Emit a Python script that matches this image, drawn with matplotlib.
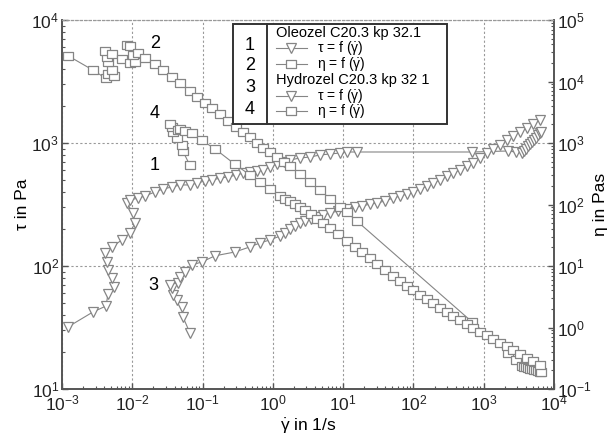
import matplotlib
matplotlib.use('Agg')
import matplotlib.pyplot as plt
from matplotlib.lines import Line2D
from matplotlib.patches import Rectangle
from matplotlib.ticker import LogLocator, NullFormatter

plt.rcParams['font.family'] = ['Liberation Sans', 'DejaVu Sans']
plt.rcParams['mathtext.fontset'] = 'custom'
plt.rcParams['mathtext.rm'] = 'Liberation Sans'
plt.rcParams['mathtext.it'] = 'Liberation Sans'
plt.rcParams['mathtext.bf'] = 'Liberation Sans:bold'

# ---------------- data ----------------
# Oleozel C20.3 kp 32.1 : shear stress (curve 1) and viscosity (curve 2)
gamma_oleo = [1.22e-3, 2.76e-3, 4.23e-3, 4.51e-3, 5.49e-3, 5.14e-3, 4.51e-3, 4.37e-3,
              4.09e-3, 5.14e-3, 7.13e-3, 9.27e-3, 1.09e-2, 1.02e-2, 8.41e-3, 9.27e-3,
              1.21e-2, 1.52e-2, 2.10e-2, 2.73e-2, 3.67e-2, 4.77e-2, 6.62e-2, 8.32e-2,
              0.108, 0.136, 0.177, 0.230, 0.299, 0.376, 0.472, 0.594, 0.723, 0.910,
              1.14, 1.44, 1.75, 2.43, 3.37, 4.68, 6.49, 9.0, 11.3, 15.7, 679, 2210,
              2870, 3490, 3730, 3980, 4250, 4540, 4850, 5180, 5530, 5900, 6300, 6510]
tau_oleo = [32, 42.3, 47.3, 59.2, 67.5, 79.8, 92.7, 108, 128, 143, 163, 185, 224, 270,
            325, 344, 357, 371, 400, 423, 439, 456, 456, 473, 491, 500, 519, 529, 549,
            570, 581, 592, 603, 638, 675, 701, 728, 755, 769, 799, 814, 829, 845, 845,
            845, 861, 845, 829, 865, 900, 938, 978, 1019, 1062, 1107, 1153, 1202, 1228]
eta_oleo = [26200, 15300, 11200, 13100, 12300, 15500, 20600, 24700, 31200, 27800,
            22800, 20000, 20500, 26500, 38600, 37100, 29500, 24400, 19000, 15500,
            12000, 9560, 6890, 5690, 4550, 3680, 2930, 2300, 1840, 1520, 1230, 997,
            834, 701, 592, 487, 416, 311, 228, 171, 125, 92, 74.8, 53.8, 1.24, 0.390,
            0.294, 0.238, 0.232, 0.226, 0.221, 0.215, 0.210, 0.205, 0.200, 0.195,
            0.191, 0.189]

# Hydrozel C20.3 kp 32 1 : shear stress (curve 3) and viscosity (curve 4)
gamma_hydro = [6.62e-2, 5.26e-2, 5.09e-2, 4.32e-2, 3.79e-2, 3.67e-2, 3.44e-2, 4.47e-2,
               4.77e-2, 5.62e-2, 7.07e-2, 9.8e-2, 0.150, 0.289, 0.472, 0.655, 0.910,
               1.26, 1.49, 1.75, 2.06, 2.43, 2.86, 3.48, 4.24, 5.16, 6.49, 8.43, 11.3,
               14.7, 18.5, 24.0, 30.3, 39.3, 51.1, 64.3, 80.8, 98.4, 124, 156, 189, 238,
               300, 365, 459, 577, 702, 883, 1110, 1350, 1700, 2140, 2600, 3270, 4120,
               5010, 6300]
tau_hydro = [28.5, 38.5, 46.4, 53.0, 58.1, 66.2, 70.1, 72.8, 81.4, 89.4, 102, 108, 121,
             130, 143, 154, 163, 175, 185, 200, 212, 224, 232, 241, 250, 260, 270, 280,
             290, 302, 307, 319, 325, 338, 357, 371, 385, 400, 423, 447, 473, 500, 539,
             570, 603, 650, 687, 755, 829, 893, 963, 1057, 1140, 1228, 1324, 1426, 1538]
eta_hydro = [431, 732, 912, 1227, 1533, 1804, 2038, 1629, 1707, 1591, 1441, 1100, 804,
             450, 302, 235, 179, 139, 124, 114, 103, 92.1, 81.2, 69.3, 59.0, 50.4, 41.6,
             33.2, 25.7, 20.5, 16.6, 13.3, 10.7, 8.60, 6.99, 5.77, 4.76, 4.07, 3.41,
             2.87, 2.50, 2.10, 1.80, 1.56, 1.31, 1.13, 0.979, 0.855, 0.747, 0.661, 0.566,
             0.494, 0.438, 0.376, 0.321, 0.285, 0.244]

legend_titles = ['Oleozel C20.3 kp 32.1', 'Hydrozel C20.3 kp 32 1']
curve_numbers = ['1', '2', '3', '4']

# ---------------- style ----------------
W, H = 614, 441
GREY = '#858585'
SPINE = '#555555'
rect_marker = [(-1, -0.72), (1, -0.72), (1, 0.72), (-1, 0.72), (-1, -0.72)]
tri_kw = dict(marker='v', markersize=6.5, markerfacecolor='white', markeredgecolor=GREY,
              markeredgewidth=0.9, color=GREY, linewidth=0.8)
sq_kw = dict(marker=rect_marker, markersize=7.5, markerfacecolor='white', markeredgecolor=GREY,
             markeredgewidth=0.9, color=GREY, linewidth=0.8)

fig = plt.figure(figsize=(W / 100, H / 100), dpi=100)
ax = fig.add_axes([62 / W, 1 - 389 / H, (554 - 62) / W, (389 - 20) / H])
ax2 = ax.twinx()

ax.set_xscale('log')
ax.set_yscale('log')
ax2.set_yscale('log')
ax.set_xlim(1e-3, 1e4)
ax.set_ylim(10, 1e4)
ax2.set_ylim(0.1, 1e5)

ax.plot(gamma_oleo, tau_oleo, **tri_kw, zorder=3)
ax.plot(gamma_hydro, tau_hydro, **tri_kw, zorder=3)
ax2.plot(gamma_oleo, eta_oleo, **sq_kw, zorder=3)
ax2.plot(gamma_hydro, eta_hydro, **sq_kw, zorder=3)

# grid
ax.grid(True, which='major', linestyle=(0, (2, 2)), color='#999999', linewidth=0.8)
ax.set_axisbelow(True)

# ticks
for a in (ax, ax2):
    a.tick_params(which='both', direction='in', colors=SPINE, labelcolor='#222222',
                  labelsize=12.5)
    a.tick_params(which='major', length=4, width=1)
    a.tick_params(which='minor', length=2.2, width=0.8)
ax.tick_params(axis='y', pad=2)
ax2.tick_params(axis='y', pad=2)
ax.xaxis.set_major_locator(LogLocator(base=10, numticks=12))
ax.xaxis.set_minor_locator(LogLocator(base=10, subs=range(2, 10), numticks=12))
ax.xaxis.set_minor_formatter(NullFormatter())
ax2.yaxis.set_major_locator(LogLocator(base=10, numticks=12))
ax2.yaxis.set_minor_locator(LogLocator(base=10, subs=range(2, 10), numticks=12))
ax2.yaxis.set_minor_formatter(NullFormatter())

for a in (ax, ax2):
    for s in ('left', 'right', 'bottom'):
        a.spines[s].set_color(SPINE)
        a.spines[s].set_linewidth(1.2)
    a.spines['top'].set_color('#999999')
    a.spines['top'].set_linestyle((0, (2, 2)))
    a.spines['top'].set_linewidth(0.8)

ax.set_ylabel('τ in Pa', fontsize=12.5, labelpad=1)
ax2.set_ylabel('η in Pas', fontsize=12.5, rotation=90, labelpad=1)
ax.set_xlabel(r'$\dot{\gamma}$ in 1/s', fontsize=12.5, labelpad=2)

# curve numbers inside plot
def fpos(px, py):
    return px / W, 1 - py / H

num_pos = [(155, 165), (155, 43), (153, 286), (155, 113)]
for n, (px, py) in zip(curve_numbers, num_pos):
    fig.text(*fpos(px, py), n, fontsize=13, ha='center', va='center')

# legend box (drawn manually)
lx0, ly0, lx1, ly1 = 233, 24, 447, 124
fig.add_artist(Rectangle(fpos(lx0, ly1), (lx1 - lx0) / W, (ly1 - ly0) / H,
                         transform=fig.transFigure, facecolor='white',
                         edgecolor='#333333', linewidth=1.4, zorder=10))
fig.add_artist(Line2D([267 / W, 267 / W], [1 - ly0 / H, 1 - ly1 / H],
                      transform=fig.transFigure, color='#333333', linewidth=1.4, zorder=11))
for n, py in zip(curve_numbers, [45, 66, 88, 109]):
    fig.text(*fpos(250, py), n, fontsize=13, ha='center', va='center', zorder=12)

fig.text(*fpos(276, 33), legend_titles[0], fontsize=10.5, ha='left', va='center', zorder=12)
fig.text(*fpos(276, 80), legend_titles[1], fontsize=10.5, ha='left', va='center', zorder=12)
entry_rows = [(48, tri_kw, 'τ = f ($\\dot{\\gamma}$)'),
              (64, sq_kw, 'η = f ($\\dot{\\gamma}$)'),
              (96, tri_kw, 'τ = f ($\\dot{\\gamma}$)'),
              (111, sq_kw, 'η = f ($\\dot{\\gamma}$)')]
for py, kw, label in entry_rows:
    y = 1 - py / H
    fig.add_artist(Line2D([276 / W, 307 / W], [y, y], transform=fig.transFigure,
                          color=GREY, linewidth=0.8, zorder=12))
    mk = dict(kw)
    mk['linewidth'] = 0
    fig.add_artist(Line2D([291 / W], [y], transform=fig.transFigure, zorder=13, **mk))
    fig.text(317 / W, y, label, fontsize=10, ha='left', va='center', zorder=12)

fig.savefig('out.png', dpi=100)
